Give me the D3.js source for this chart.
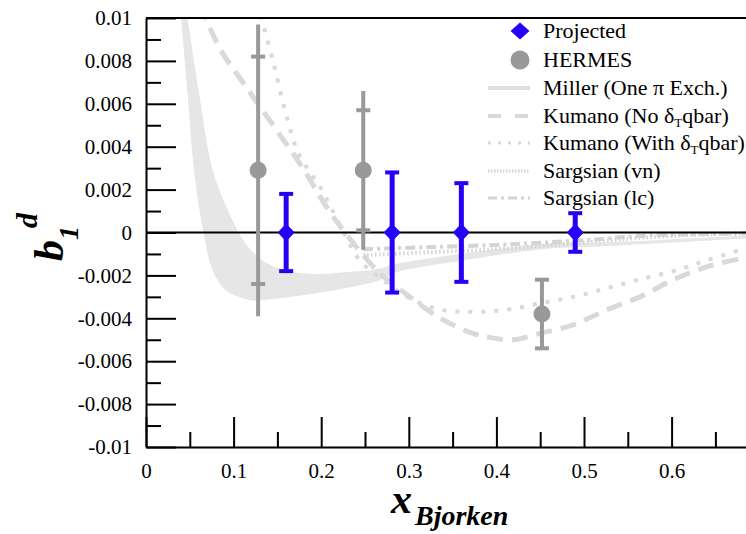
<!DOCTYPE html>
<html>
<head>
<meta charset="utf-8">
<script src="https://cdn.jsdelivr.net/npm/d3@7"></script>
<style>
  body { margin: 0; background: #fff; }
  svg text { font-family: "Liberation Serif", "Times New Roman", Times, Tinos, "DejaVu Serif", "Noto Serif", serif; }
</style>
</head>
<body>
<div id="chart"></div>
<script>
// ---- data ----
const xTicks = [0, 0.1, 0.2, 0.3, 0.4, 0.5, 0.6];
const xLabels = ["0", "0.1", "0.2", "0.3", "0.4", "0.5", "0.6"];
const xMinor = [0.05, 0.15, 0.25, 0.35, 0.45, 0.55, 0.65];
const yTicks = [-0.01, -0.008, -0.006, -0.004, -0.002, 0, 0.002, 0.004, 0.006, 0.008, 0.01];
const yLabels = ["-0.01", "-0.008", "-0.006", "-0.004", "-0.002", "0", "0.002", "0.004", "0.006", "0.008", "0.01"];
const yMinor = [-0.009, -0.007, -0.005, -0.003, -0.001, 0.001, 0.003, 0.005, 0.007, 0.009];

const projX = [0.160, 0.281, 0.360, 0.490];
const projY = [0, 0, 0, 0];
const projErr = [0.0018, 0.0028, 0.0023, 0.0009];

const hermesX = [0.128, 0.248, 0.452];
const hermesY = [0.0029, 0.0029, -0.0038];
const hermesStat = [0.0053, 0.0028, 0.0016];
const hermesTot = [0.0068, 0.0037, 0.0016];

// Miller band edges [x, y]
const millerUpper = [[0.0476, 0.0100], [0.061, 0.0064], [0.077, 0.0028], [0.099, 0.00056], [0.114, -0.00053],
  [0.133, -0.0013], [0.160, -0.00177], [0.190, -0.00193], [0.228, -0.00185], [0.266, -0.00169],
  [0.286, -0.00146], [0.362, -0.00098], [0.461, -0.00051], [0.518, -0.00047], [0.685, -0.00014], [0.70, -0.0001]];
const millerLower = [[0.040, 0.0100], [0.0476, 0.0064], [0.055, 0.0028], [0.0666, -0.00022], [0.0761, -0.00177],
  [0.0913, -0.0027], [0.114, -0.0031], [0.122, -0.00317], [0.190, -0.00286], [0.266, -0.00224],
  [0.286, -0.00185], [0.362, -0.0013], [0.461, -0.00075], [0.518, -0.00065], [0.685, -0.00028], [0.70, -0.00025]];

const kumanoNo = [[0.062, 0.0106], [0.084, 0.0086], [0.114, 0.0068], [0.152, 0.0046], [0.179, 0.0030], [0.206, 0.0012],
  [0.229, -0.0001], [0.267, -0.0019], [0.298, -0.0029], [0.336, -0.0040], [0.373, -0.0047], [0.393, -0.0049],
  [0.419, -0.0050], [0.450, -0.0047], [0.488, -0.0043], [0.526, -0.0036], [0.564, -0.0030], [0.602, -0.0022],
  [0.640, -0.0016], [0.68, -0.0012], [0.70, -0.0010]];
const kumanoWith = [[0.131, 0.0101], [0.145, 0.0080], [0.160, 0.0055], [0.175, 0.0036], [0.199, 0.0021], [0.222, 0.0003],
  [0.244, -0.0013], [0.267, -0.0021], [0.298, -0.0030], [0.336, -0.0036], [0.374, -0.0037], [0.412, -0.0036],
  [0.450, -0.0033], [0.488, -0.0030], [0.526, -0.0026], [0.562, -0.0022], [0.602, -0.0018], [0.640, -0.0013],
  [0.68, -0.0008], [0.70, -0.0006]];
const sargsianVn = [[0.248, -0.00105], [0.324, -0.00092], [0.40, -0.00078], [0.461, -0.0006], [0.52, -0.0004],
  [0.564, -0.00025], [0.62, -0.00012], [0.68, -0.00005], [0.70, -0.00004]];
const sargsianLc = [[0.248, -0.00078], [0.324, -0.00068], [0.40, -0.00058], [0.461, -0.00045], [0.52, -0.0003],
  [0.564, -0.00016], [0.62, -0.00008], [0.68, -0.00004], [0.70, -0.00003]];

const width = 746, height = 534;
const blue = "#2400f5", gray = "#999999", curveGray = "#d9d9d9";
const serif = "'Liberation Serif', 'Times New Roman', Times, Tinos, 'DejaVu Serif', 'Noto Serif', serif";

const svg = d3.select("#chart").append("svg")
  .attr("width", width).attr("height", height)
  .attr("font-family", serif);

const x = d3.scaleLinear().domain([0, 0.7]).range([146, 146 + 876 * 0.7]);
const y = d3.scaleLinear().domain([-0.01, 0.01]).range([447, 18]);

svg.append("clipPath").attr("id", "plot")
  .append("rect")
  .attr("x", x(0)).attr("y", y(0.01))
  .attr("width", x(0.7) - x(0)).attr("height", y(-0.01) - y(0.01));

const g = svg.append("g").attr("clip-path", "url(#plot)");

const line = d3.line().x(d => x(d[0])).y(d => y(d[1])).curve(d3.curveCatmullRom);

// Miller band
const bandPath = line(millerUpper) + "L" + line(millerLower.slice().reverse()).slice(1) + "Z";
g.append("path").attr("d", bandPath).attr("fill", "#e6e6e6");

g.append("path").attr("d", line(kumanoNo))
  .attr("fill", "none").attr("stroke", curveGray).attr("stroke-width", 5)
  .attr("stroke-dasharray", "16,9");
g.append("path").attr("d", line(kumanoWith))
  .attr("fill", "none").attr("stroke", curveGray).attr("stroke-width", 4)
  .attr("stroke-dasharray", "4,9");
g.append("path").attr("d", line(sargsianVn))
  .attr("fill", "none").attr("stroke", "#d4d4d4").attr("stroke-width", 4)
  .attr("stroke-dasharray", "1.5,2.5");
g.append("path").attr("d", line(sargsianLc))
  .attr("fill", "none").attr("stroke", "#d4d4d4").attr("stroke-width", 4)
  .attr("stroke-dasharray", "10,4,3,4");

// zero line
g.append("line")
  .attr("x1", x(0)).attr("x2", x(0.7))
  .attr("y1", y(0)).attr("y2", y(0))
  .attr("stroke", "#000").attr("stroke-width", 2);

// axes
svg.append("g")
  .attr("transform", `translate(0,${y(-0.01)})`)
  .call(d3.axisBottom(x).tickValues(xTicks).tickFormat((d, i) => xLabels[i])
    .tickSizeInner(-30).tickSizeOuter(0).tickPadding(16));
svg.append("g")
  .attr("transform", `translate(0,${y(-0.01)})`)
  .call(d3.axisBottom(x).tickValues(xMinor).tickFormat("").tickSizeInner(-15).tickSizeOuter(0))
  .call(a => a.select(".domain").remove());

svg.append("g")
  .attr("transform", `translate(${x(0)},0)`)
  .call(d3.axisLeft(y).tickValues(yTicks).tickFormat((d, i) => yLabels[i])
    .tickSizeInner(-30).tickSizeOuter(0).tickPadding(14));
svg.append("g")
  .attr("transform", `translate(${x(0)},0)`)
  .call(d3.axisLeft(y).tickValues(yMinor).tickFormat("").tickSizeInner(-15).tickSizeOuter(0))
  .call(a => a.select(".domain").remove());

svg.selectAll("g").attr("font-family", serif);
svg.selectAll(".domain, .tick line").attr("stroke", "#000").attr("stroke-width", 2);
svg.selectAll(".tick text").attr("font-size", 21).attr("fill", "#000");

// top frame
svg.append("line")
  .attr("x1", x(0)).attr("x2", x(0.7))
  .attr("y1", y(0.01)).attr("y2", y(0.01))
  .attr("stroke", "#000").attr("stroke-width", 2);

// HERMES points
const hermes = svg.append("g");
hermesX.forEach((hx, i) => {
  const cx = x(hx);
  hermes.append("line")
    .attr("x1", cx).attr("x2", cx)
    .attr("y1", y(hermesY[i] + hermesTot[i])).attr("y2", y(hermesY[i] - hermesTot[i]))
    .attr("stroke", gray).attr("stroke-width", 4);
  [hermesY[i] + hermesStat[i], hermesY[i] - hermesStat[i]].forEach(v => {
    hermes.append("line")
      .attr("x1", cx - 7).attr("x2", cx + 7)
      .attr("y1", y(v)).attr("y2", y(v))
      .attr("stroke", gray).attr("stroke-width", 4);
  });
  hermes.append("circle").attr("cx", cx).attr("cy", y(hermesY[i])).attr("r", 8.5).attr("fill", gray);
});

// Projected points
const diamond = (cx, cy, w, h) => `M${cx},${cy - h}L${cx + w},${cy}L${cx},${cy + h}L${cx - w},${cy}Z`;
const proj = svg.append("g");
projX.forEach((px, i) => {
  const cx = x(px);
  proj.append("line")
    .attr("x1", cx).attr("x2", cx)
    .attr("y1", y(projY[i] + projErr[i])).attr("y2", y(projY[i] - projErr[i]))
    .attr("stroke", blue).attr("stroke-width", 5);
  [projY[i] + projErr[i], projY[i] - projErr[i]].forEach(v => {
    proj.append("line")
      .attr("x1", cx - 7).attr("x2", cx + 7)
      .attr("y1", y(v)).attr("y2", y(v))
      .attr("stroke", blue).attr("stroke-width", 4);
  });
  proj.append("path").attr("d", diamond(cx, y(projY[i]), 8.5, 9)).attr("fill", blue);
});

// legend
const legendRows = [31, 60, 88, 116, 143, 171, 198];
const lx0 = 488, lx1 = 530, tx = 543;
const leg = svg.append("g");
leg.append("path").attr("d", diamond(520, legendRows[0], 9.5, 8.5)).attr("fill", blue);
leg.append("circle").attr("cx", 520).attr("cy", legendRows[1]).attr("r", 9.5).attr("fill", gray);
const legStyles = [
  { stroke: "#e0e0e0", w: 4, dash: null },
  { stroke: curveGray, w: 4, dash: "13,14" },
  { stroke: curveGray, w: 3, dash: "3,7" },
  { stroke: "#d4d4d4", w: 3, dash: "1.5,1.5" },
  { stroke: "#d4d4d4", w: 3, dash: "9,4,3,4" }
];
legStyles.forEach((s, i) => {
  leg.append("line")
    .attr("x1", lx0).attr("x2", lx1)
    .attr("y1", legendRows[i + 2]).attr("y2", legendRows[i + 2])
    .attr("stroke", s.stroke).attr("stroke-width", s.w)
    .attr("stroke-dasharray", s.dash);
});
const legText = (i) => leg.append("text").attr("x", tx).attr("y", legendRows[i] + 7)
  .attr("font-size", 22).attr("fill", "#000");
legText(0).text("Projected");
legText(1).text("HERMES");
legText(2).text("Miller (One \u03c0 Exch.)");
[["Kumano (No \u03b4", "qbar)"], ["Kumano (With \u03b4", "qbar)"]].forEach((p, k) => {
  const t = legText(3 + k);
  t.append("tspan").text(p[0]);
  t.append("tspan").attr("font-size", 13).attr("dy", 4).text("T");
  t.append("tspan").attr("dy", -4).text(p[1]);
});
legText(5).text("Sargsian (vn)");
legText(6).text("Sargsian (lc)");

// axis titles
const xt = svg.append("text")
  .attr("x", 391).attr("y", 513)
  .attr("font-weight", "bold").attr("font-style", "italic").attr("fill", "#000");
xt.append("tspan").attr("font-size", 42).text("x");
xt.append("tspan").attr("font-size", 28).attr("dx", 3).attr("dy", 12).text("Bjorken");

const yt = svg.append("text")
  .attr("transform", "rotate(-90)")
  .attr("x", -261).attr("y", 63)
  .attr("font-weight", "bold").attr("font-style", "italic").attr("fill", "#000");
yt.append("tspan").attr("font-size", 42).text("b");
yt.append("tspan").attr("font-size", 28).attr("dy", 15).text("1");
yt.append("tspan").attr("font-size", 30).attr("dy", -41).attr("dx", -2).text("d");
</script>
</body>
</html>
